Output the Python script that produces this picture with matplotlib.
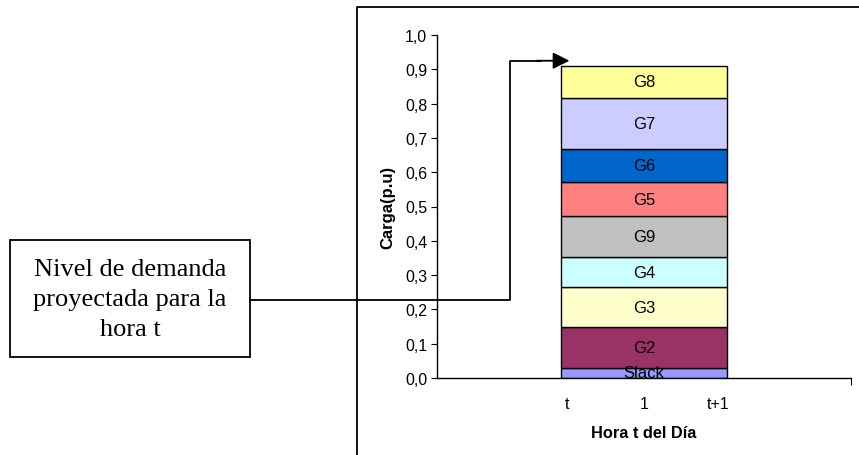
import matplotlib
matplotlib.use("Agg")
import matplotlib.pyplot as plt
from matplotlib.lines import Line2D
from matplotlib.patches import Rectangle

# stacked generation for hour t (p.u.), bottom to top
units = ["Slack", "G2", "G3", "G4", "G9", "G5", "G6", "G7", "G8"]
loads = [0.030, 0.118, 0.116, 0.088, 0.119, 0.099, 0.099, 0.148, 0.092]
colors = ["#9999FF", "#993366", "#FFFFCC", "#CCFFFF", "#C0C0C0",
          "#FF8080", "#0066CC", "#CCCCFF", "#FFFF99"]

x_ticks = [0.815, 1.0, 1.18]
x_labels = ["t", "1", "t+1"]
y_ticks = [i / 10 for i in range(11)]
y_labels = [f"{v:.1f}".replace(".", ",") for v in y_ticks]

box_text = "Nivel de demanda\nproyectada para la\nhora t"

W, H = 859, 456
plt.rcParams["font.family"] = ["Liberation Sans", "DejaVu Sans"]

fig = plt.figure(figsize=(W / 100, H / 100), dpi=100)
ax = fig.add_axes([437 / W, 1 - 379 / H, 414 / W, 343 / H])

bottom = 0.0
for name, val, c in zip(units, loads, colors):
    ax.bar(1.0, val, width=0.4, bottom=bottom, color=c, edgecolor="black", linewidth=1.0, zorder=2)
    ax.text(1.0, bottom + val / 2, name, ha="center", va="center", fontsize=12, zorder=3, clip_on=True)
    bottom += val

ax.set_xlim(0.5, 1.5)
ax.set_ylim(0, 1.0)
ax.set_yticks(y_ticks)
ax.set_yticklabels(y_labels, fontsize=11.5)
ax.set_xticks(x_ticks)
ax.set_xticklabels(x_labels, fontsize=11.5)
ax.tick_params(axis="x", length=0, pad=13)
ax.tick_params(axis="y", length=4, width=0.8, direction="out", pad=3)
ax.set_xticks([1.5], minor=True)
ax.tick_params(axis="x", which="minor", length=5, width=0.8, direction="out")
for s in ("top", "right"):
    ax.spines[s].set_visible(False)
for s in ("left", "bottom"):
    ax.spines[s].set_linewidth(1.0)
ax.set_ylabel("Carga(p.u)", fontsize=12, fontweight="bold", labelpad=7)
ax.set_xlabel("Hora t del Día", fontsize=11.8, fontweight="bold", labelpad=10)

# connector from the note box to the top of the stack
ax.plot([0.048, 0.676, 0.676, 0.75], [0.227, 0.227, 0.925, 0.925],
        color="black", linewidth=1.3, clip_on=False, zorder=4)
ax.annotate("", xy=(0.82, 0.925), xytext=(0.74, 0.925),
            arrowprops=dict(arrowstyle="-|>,head_length=0.5,head_width=0.25",
                            color="black", lw=1.3, mutation_scale=20, shrinkA=0, shrinkB=0),
            annotation_clip=False, zorder=4)

# outer chart frame (runs off the right and bottom edges)
fig.add_artist(Line2D([357 / W, 357 / W, 1.0], [0.0, 1 - 8 / H, 1 - 8 / H],
                      transform=fig.transFigure, color="black", linewidth=1.3))

# note box
fig.add_artist(Rectangle((10 / W, 1 - 358 / H), 240 / W, 117 / H, transform=fig.transFigure,
                         fill=False, edgecolor="black", linewidth=1.3))
fig.text(130 / W, 1 - 300 / H, box_text, ha="center", va="center", fontsize=19,
         family=["Liberation Serif", "DejaVu Serif"], linespacing=1.45)

fig.savefig("out.png", dpi=100)
